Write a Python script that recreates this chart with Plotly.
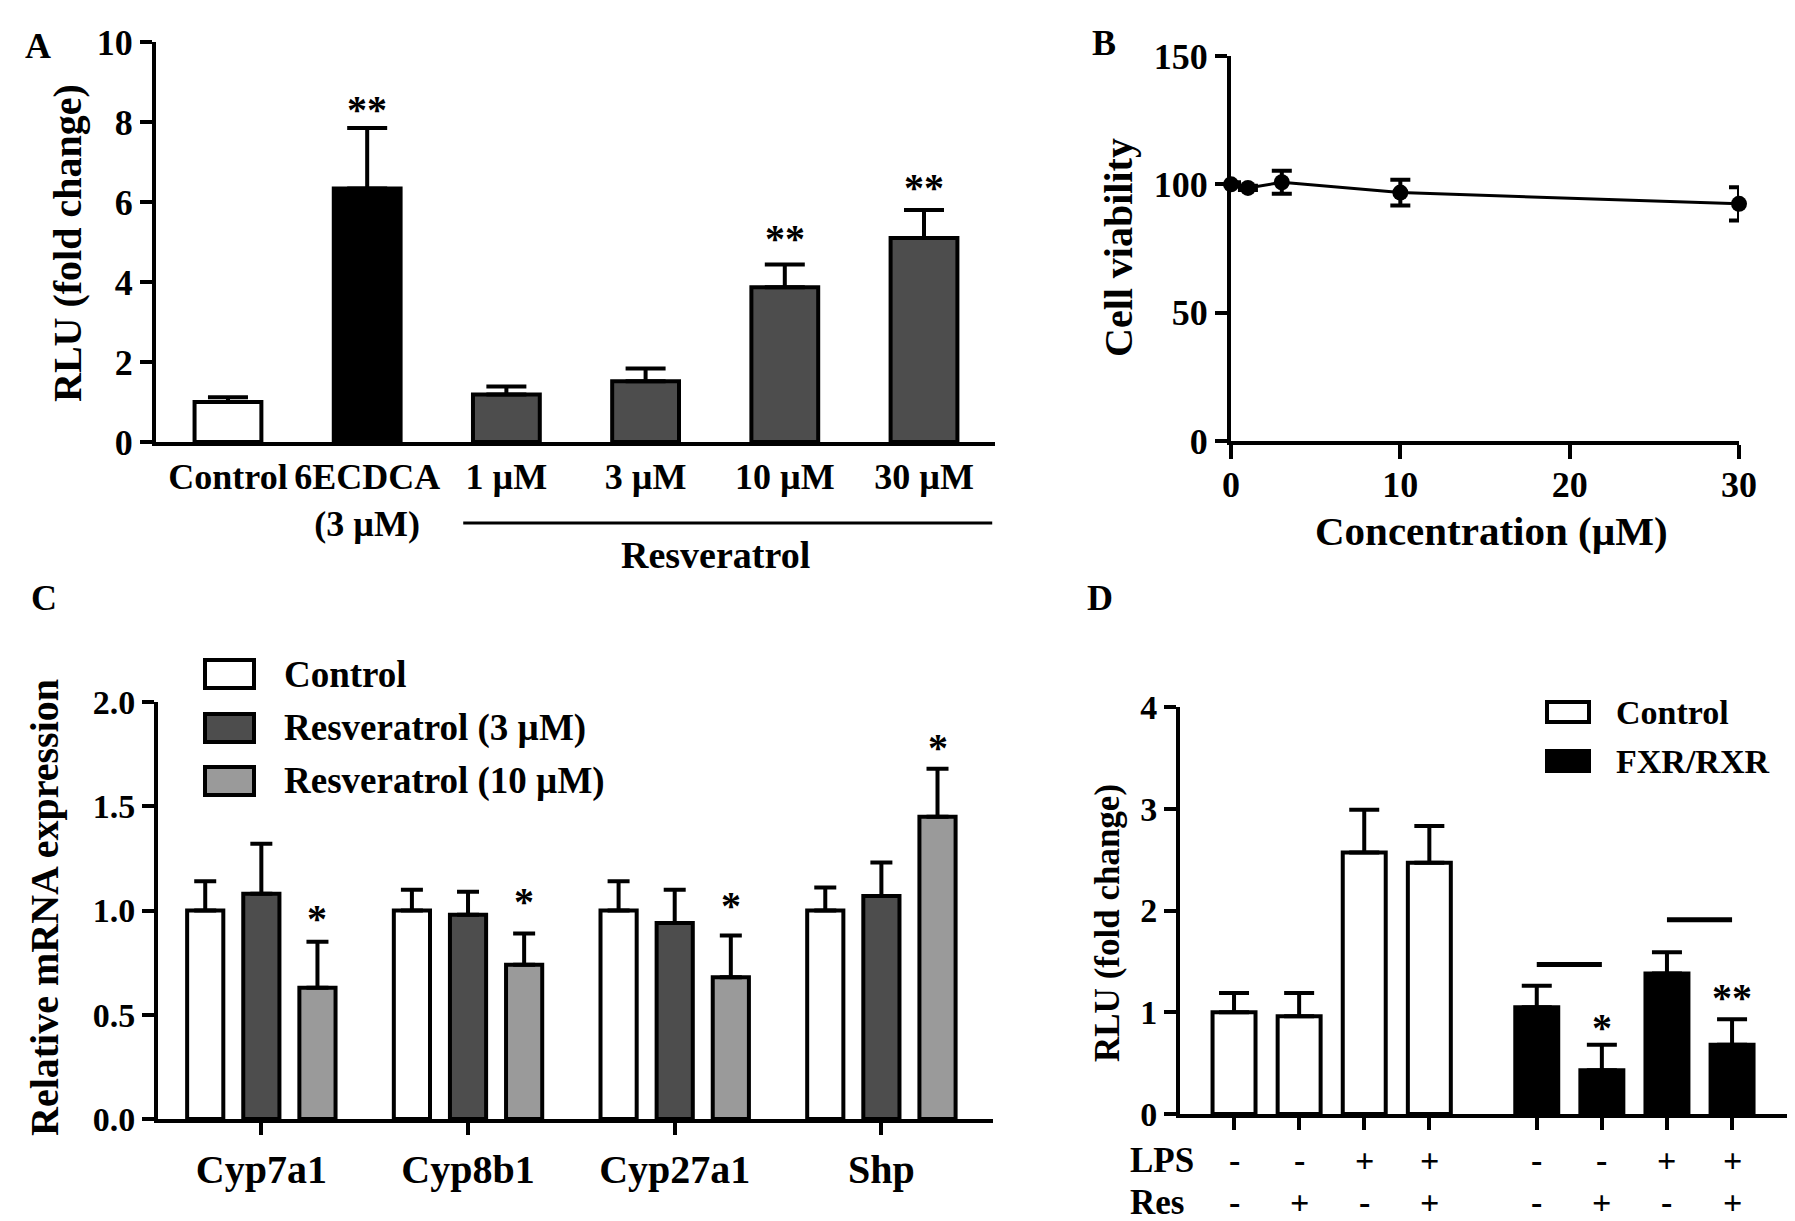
import plotly.graph_objects as go

W, H = 1795, 1221
FONT = "Liberation Serif"

# ---- panel A: FXR reporter activity
a_labels = ["Control", "6ECDCA<br>(3 µM)", "1 µM", "3 µM", "10 µM", "30 µM"]
a_values = [1.0, 6.34, 1.19, 1.52, 3.87, 5.10]
a_errors = [0.12, 1.51, 0.20, 0.32, 0.57, 0.70]
a_stars = ["", "**", "", "", "**", "**"]
a_star_y = [0, 8.47, 0, 0, 5.23, 6.51]

# ---- panel B: cell viability
b_conc = [0, 1, 3, 10, 30]
b_viab = [100, 98.6, 100.8, 96.8, 92.4]
b_err = [0.8, 0.8, 4.5, 5.0, 6.5]

# ---- panel C: mRNA expression
c_genes = ["Cyp7a1", "Cyp8b1", "Cyp27a1", "Shp"]
c_series = ["Control", "Resveratrol (3 µM)", "Resveratrol (10 µM)"]
c_ctrl = [1.0, 1.0, 1.0, 1.0]
c_ctrl_err = [0.14, 0.10, 0.14, 0.11]
c_res3 = [1.08, 0.98, 0.94, 1.07]
c_res3_err = [0.24, 0.11, 0.16, 0.16]
c_res10 = [0.63, 0.74, 0.68, 1.45]
c_res10_err = [0.22, 0.15, 0.20, 0.23]
c_star_y = [0.99, 1.07, 1.055, 1.81]

# ---- panel D: LPS / resveratrol reporter
d_series = ["Control", "FXR/RXR"]
d_lps = ["-", "-", "+", "+", "-", "-", "+", "+"]
d_res = ["-", "+", "-", "+", "-", "+", "-", "+"]
d_pos = [1, 2, 3, 4, 5.65, 6.65, 7.65, 8.65]
d_ctrl = [1.0, 0.96, 2.57, 2.47]
d_ctrl_err = [0.19, 0.23, 0.42, 0.36]
d_fxr = [1.05, 0.43, 1.38, 0.68]
d_fxr_err = [0.21, 0.25, 0.21, 0.25]
d_stars = ["", "*", "", "**"]
d_star_y = [0, 0.91, 0, 1.20]
d_brackets = [(4, 5, 1.47), (6, 7, 1.91)]  # bar index pairs and height


def px(x):
    return x / W


def py(y):
    return 1 - y / H


def txt(text, x, y, size=36, xref="paper", yref="paper", **kw):
    kw.setdefault("xanchor", "center")
    kw.setdefault("yanchor", "middle")
    return dict(text=text, x=x, y=y, xref=xref, yref=yref, showarrow=False,
                font=dict(family=FONT, size=size, color="black", weight="bold"), **kw)


def err(vals, w):
    return dict(type="data", array=vals, arrayminus=[0] * len(vals), symmetric=False,
                color="black", thickness=4, width=w)


axis_common = dict(showline=True, linewidth=4, linecolor="black", showgrid=False,
                   zeroline=False, tickcolor="black", tickwidth=4, automargin=False,
                   tickfont=dict(family=FONT, size=36, color="black", weight="bold"))

fig = go.Figure()

# A
fig.add_trace(go.Bar(x=a_labels, y=a_values, width=0.48, xaxis="x", yaxis="y",
                     marker=dict(color=["white", "black"] + ["#4d4d4d"] * 4,
                                 line=dict(color="black", width=4)),
                     error_y=err(a_errors, 20), showlegend=False))

# B
fig.add_trace(go.Scatter(x=b_conc, y=b_viab, xaxis="x2", yaxis="y2", mode="lines+markers",
                         line=dict(color="black", width=3), cliponaxis=False,
                         marker=dict(color="black", size=16),
                         error_y=dict(type="data", array=b_err, color="black", thickness=4, width=10),
                         showlegend=False))

# C
c_fill = ["white", "#4d4d4d", "#9a9a9a"]
c_vals = [c_ctrl, c_res3, c_res10]
c_errs = [c_ctrl_err, c_res3_err, c_res10_err]
c_w = 0.175
c_step = 0.2715
for i, name in enumerate(c_series):
    fig.add_trace(go.Bar(x=list(range(len(c_genes))), y=c_vals[i], name=name,
                         width=c_w, offset=(i - 1) * c_step - c_w / 2,
                         xaxis="x3", yaxis="y3",
                         marker=dict(color=c_fill[i], line=dict(color="black", width=4)),
                         error_y=err(c_errs[i], 11), showlegend=False))

# D
d_fill = ["white", "black"]
for i, (vals, errs) in enumerate([(d_ctrl, d_ctrl_err), (d_fxr, d_fxr_err)]):
    fig.add_trace(go.Bar(x=d_pos[4 * i:4 * i + 4], y=vals, name=d_series[i], width=0.66,
                         xaxis="x4", yaxis="y4",
                         marker=dict(color=d_fill[i], line=dict(color="black", width=4)),
                         error_y=err(errs, 15), showlegend=False))

fig.update_layout(
    width=W, height=H, margin=dict(l=0, r=0, t=0, b=0, autoexpand=False),
    paper_bgcolor="white", plot_bgcolor="white", barmode="overlay",
    font=dict(family=FONT, size=36, color="black", weight="bold"),
    xaxis=dict(domain=[px(148), px(987)], anchor="y", range=[-0.517, 5.51], ticks="",
               **axis_common),
    yaxis=dict(domain=[py(434), py(34)], anchor="x", range=[0, 10], dtick=2,
               ticks="outside", ticklen=12, **axis_common),
    xaxis2=dict(domain=[px(1223), px(1731)], anchor="y2", range=[0, 30],
                tickvals=[0, 10, 20, 30], ticks="outside", ticklen=14,
                ticklabelstandoff=-5, **axis_common),
    yaxis2=dict(domain=[py(433), py(48)], anchor="x2", range=[0, 150], dtick=50,
                ticks="outside", ticklen=12, **axis_common),
    xaxis3=dict(domain=[px(150), px(985)], anchor="y3", range=[-0.5, 3.54],
                tickvals=list(range(len(c_genes))), ticktext=c_genes,
                ticks="outside", ticklen=12, **axis_common),
    yaxis3=dict(domain=[py(1111), py(694)], anchor="x3", range=[0, 2], dtick=0.5,
                tickformat=".1f", ticks="outside", ticklen=12, **axis_common),
    xaxis4=dict(domain=[px(1172), px(1782)], anchor="y4", range=[0.17, 9.54],
                tickvals=d_pos, showticklabels=False, ticks="outside", ticklen=12,
                **axis_common),
    yaxis4=dict(domain=[py(1106), py(699)], anchor="x4", range=[0, 4], dtick=1,
                ticks="outside", ticklen=12, **axis_common),
)
fig.update_layout(xaxis3_tickfont_size=40, yaxis3_tickfont_size=34, yaxis4_tickfont_size=34)

anns = []
shapes = []

# panel letters
for letter, (x, y) in zip("ABCD", [(30, 38), (1096, 35), (36, 590), (1092, 590)]):
    anns.append(txt(letter, px(x), py(y), size=36))

# axis titles
anns.append(txt("RLU (fold change)", px(60), py(235), size=40, textangle=-90))
anns.append(txt("Cell viability", px(1111), py(240), size=40, textangle=-90))
anns.append(txt("Concentration (µM)", px(1483), py(523), size=41))
anns.append(txt("Relative mRNA expression", px(36), py(900), size=40, textangle=-90))
anns.append(txt("RLU (fold change)", px(1099), py(915), size=35, textangle=-90))

# A: stars and resveratrol bracket
for lab, s, y in zip(a_labels, a_stars, a_star_y):
    if s:
        anns.append(txt(s, lab, y, size=40, xref="x", yref="y", yshift=-6))
shapes.append(dict(type="line", xref="x", yref="paper", x0=1.69, x1=5.49,
                   y0=py(515), y1=py(515), line=dict(color="black", width=3)))
anns.append(txt("Resveratrol", 3.5, py(547), size=38, xref="x"))

# C: stars on 10 µM bars and legend
for i, y in enumerate(c_star_y):
    anns.append(txt("*", i + c_step, y, size=40, xref="x3", yref="y3", yshift=-6))
for i, (name, yc) in enumerate(zip(c_series, [666, 720, 773])):
    shapes.append(dict(type="rect", xref="paper", yref="paper", x0=px(197), x1=px(246),
                       y0=py(yc + 14), y1=py(yc - 14), fillcolor=c_fill[i],
                       line=dict(color="black", width=4)))
    anns.append(txt(name, px(274), py(yc), size=37, xanchor="left"))

# D: stars, brackets, LPS/Res rows and legend
for p, s, y in zip(d_pos[4:], d_stars, d_star_y):
    if s:
        anns.append(txt(s, p, y, size=40, xref="x4", yref="y4", yshift=-6))
for i0, i1, y in d_brackets:
    shapes.append(dict(type="line", xref="x4", yref="y4", x0=d_pos[i0], x1=d_pos[i1],
                       y0=y, y1=y, line=dict(color="black", width=5)))
anns.append(txt("LPS", px(1120), py(1152), size=35, xanchor="left"))
anns.append(txt("Res", px(1120), py(1194), size=35, xanchor="left"))
for p, l, r in zip(d_pos, d_lps, d_res):
    anns.append(txt(l, p, py(1152), size=34, xref="x4"))
    anns.append(txt(r, p, py(1194), size=34, xref="x4"))
for i, (name, yc) in enumerate(zip(d_series, [704, 753])):
    shapes.append(dict(type="rect", xref="paper", yref="paper", x0=px(1539), x1=px(1581),
                       y0=py(yc + 10), y1=py(yc - 10), fillcolor=d_fill[i],
                       line=dict(color="black", width=4)))
    anns.append(txt(name, px(1606), py(yc), size=34, xanchor="left"))

fig.update_layout(annotations=anns, shapes=shapes)
fig.write_html("out.html")
